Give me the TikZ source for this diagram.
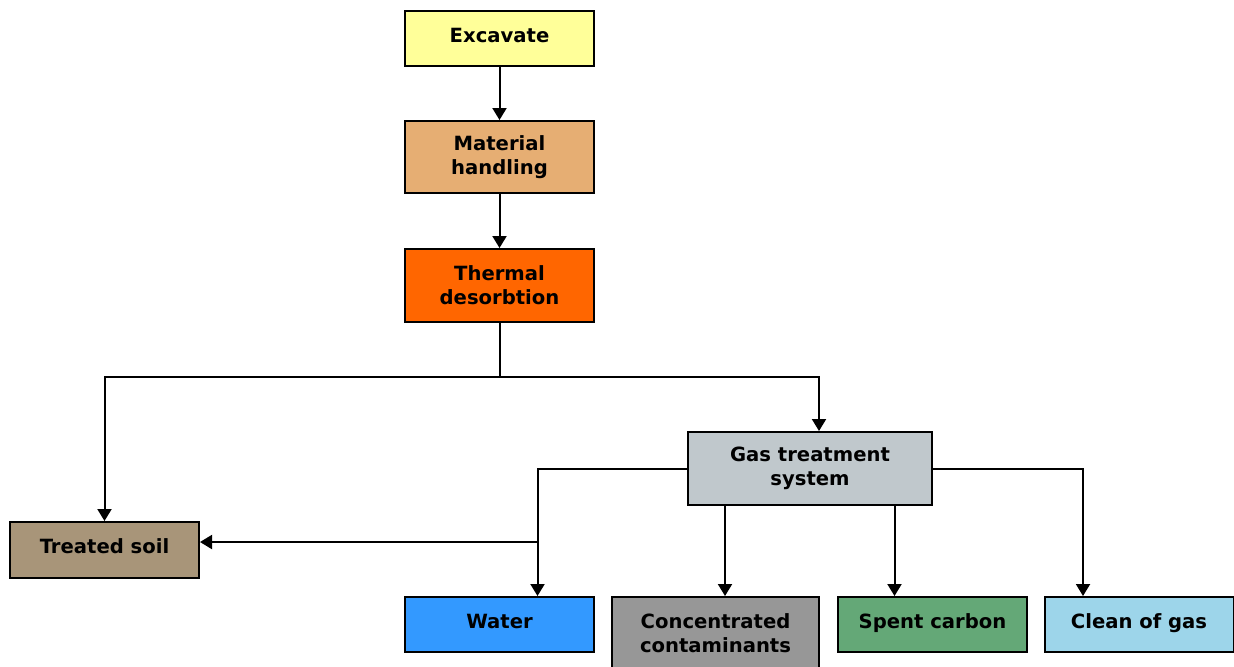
\documentclass[tikz,border=0pt]{standalone}
\usepackage{fontspec}
\setmainfont{DejaVu Sans}
\usepackage{xcolor}
\definecolor{colorExcavate}{HTML}{FFFF99}
\definecolor{colorHandling}{HTML}{E6AE73}
\definecolor{colorThermal}{HTML}{FF6600}
\definecolor{colorGas}{HTML}{C0C8CC}
\definecolor{colorSoil}{HTML}{A89579}
\definecolor{colorWater}{HTML}{3399FF}
\definecolor{colorConc}{HTML}{979797}
\definecolor{colorCarbon}{HTML}{64A877}
\definecolor{colorClean}{HTML}{9DD5EA}
\usetikzlibrary{arrows.meta, positioning}
\tikzset{flowbox/.style={draw, line width=1pt, align=center, inner sep=0pt,
    minimum width=94.5pt, minimum height=27.5pt,
    font=\bfseries\fontsize{9.8}{12}\selectfont},
  oneline/.style={text height=7.5pt, text depth=4pt}}

\begin{document}
\begin{tikzpicture}[x=0.5pt, y=-0.5pt, line width=1pt, >={Triangle[length=6pt,width=7pt]}]
\clip (0,0) rectangle (1234,666);
\node[flowbox, oneline, fill=colorExcavate] (excavate) at (499.5,38.5) {Excavate};
\node[flowbox, fill=colorHandling, minimum height=36pt] (handling) at (499.5,157) {Material\\handling};
\node[flowbox, fill=colorThermal, minimum height=36.5pt] (thermal) at (499.5,285.5) {Thermal\\desorbtion};
\node[flowbox, fill=colorGas, minimum width=122pt, minimum height=36.5pt] (gas) at (810,468.5) {Gas treatment\\system};
\node[flowbox, oneline, fill=colorSoil, minimum height=28pt] (soil) at (104.5,550) {Treated soil};
\node[flowbox, oneline, fill=colorWater] (water) at (499.5,624.5) {Water};
\node[flowbox, fill=colorConc, minimum width=103.5pt, minimum height=36.5pt] (conc) at (715.5,633.5) {Concentrated\\contaminants};
\node[flowbox, oneline, fill=colorCarbon] (carbon) at (932.5,624.5) {Spent carbon};
\node[flowbox, oneline, fill=colorClean] (clean) at (1139,624.5) {Clean of gas};
\coordinate (split) at (499.5,377);
\coordinate (soiljoint) at (537.5,542);
\draw[->] (excavate) -- (handling);
\draw[->] (handling) -- (thermal);
\draw (thermal.south) -- (split);
\draw[->] (split) -| (soil.north);
\draw[->] (split) -| ([xshift=4.5pt]gas.north);
\draw[->] (gas.west) -| ([xshift=19pt]water.north);
\draw[->] (soiljoint) -- (soiljoint -| soil.east);
\draw[->] ([xshift=-42.5pt]gas.south) -- ([xshift=-42.5pt]gas.south |- conc.north);
\draw[->] ([xshift=42.25pt]gas.south) -- ([xshift=42.25pt]gas.south |- carbon.north);
\draw[->] (gas.east) -| ([xshift=-28pt]clean.north);
\end{tikzpicture}
\end{document}
